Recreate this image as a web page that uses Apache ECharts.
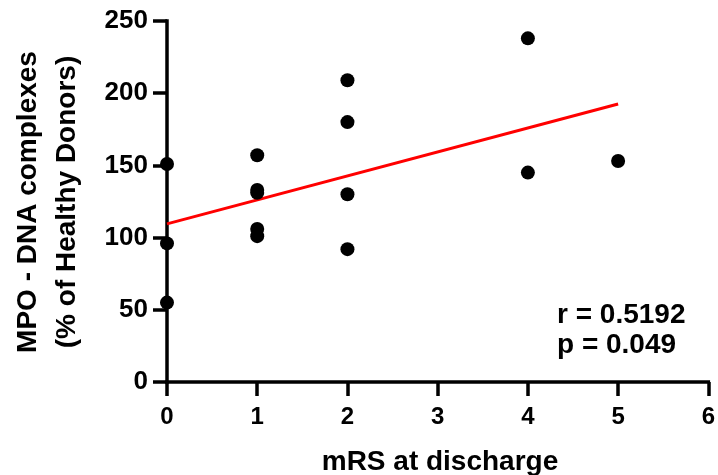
<!DOCTYPE html>
<html>
<head>
<meta charset="utf-8">
<script src="https://cdn.jsdelivr.net/npm/echarts@6/dist/echarts.min.js"></script>
<style>
html,body{margin:0;padding:0;background:#fff;}
#chart{width:718px;height:475px;}
</style>
</head>
<body>
<div id="chart"></div>
<script>
// mRS at discharge (x) and MPO-DNA complexes (% of healthy donors) (y)
var mrsValues = [0, 0, 0, 1, 1, 1, 1, 1, 2, 2, 2, 2, 4, 4, 5];
var mpoValues = [151, 96, 55, 157, 133, 131, 106, 101, 209, 180, 130, 92, 238, 145, 153];
// regression line endpoints
var fitX = [0, 5];
var fitY = [109.5, 192.5];
var xTicks = [0, 1, 2, 3, 4, 5, 6];
var yTicks = [0, 50, 100, 150, 200, 250];
var statLines = ['r = 0.5192', 'p = 0.049'];
var xTitle = 'mRS at discharge';
var yTitle = ['MPO - DNA complexes', '(% of Healthy Donors)'];

var FONT = '"Liberation Sans", Arial, Helvetica, sans-serif';
var chart = echarts.init(document.getElementById('chart'), null, {renderer: 'canvas'});

var scatterData = mrsValues.map(function (x, i) { return [x, mpoValues[i]]; });
var fitData = fitX.map(function (x, i) { return [x, fitY[i]]; });

function axisCommon() {
  return {
    axisLine: {show: true, onZero: true, lineStyle: {color: '#000', width: 3.5, cap: 'square'}},
    axisTick: {show: true, inside: false, length: 14, lineStyle: {color: '#000', width: 3.5}},
    splitLine: {show: false}
  };
}

chart.setOption({
  backgroundColor: '#fff',
  animation: false,
  grid: {left: 167, right: 9, top: 21, bottom: 93, containLabel: false},
  xAxis: Object.assign({
    type: 'value',
    min: xTicks[0],
    max: xTicks[xTicks.length - 1],
    interval: 1,
    axisLabel: {color: '#000', fontFamily: FONT, fontWeight: 'bold', fontSize: 24, margin: 23}
  }, axisCommon()),
  yAxis: Object.assign({
    type: 'value',
    min: yTicks[0],
    max: yTicks[yTicks.length - 1],
    interval: 50,
    axisLabel: {color: '#000', fontFamily: FONT, fontWeight: 'bold', fontSize: 26, margin: 19}
  }, axisCommon()),
  series: [
    {
      type: 'line',
      data: fitData,
      symbol: 'none',
      lineStyle: {color: '#ff0000', width: 3},
      z: 2,
      silent: true
    },
    {
      type: 'scatter',
      data: scatterData,
      symbol: 'circle',
      symbolSize: 14,
      itemStyle: {color: '#000', opacity: 1},
      clip: false,
      z: 3
    }
  ],
  graphic: [
    {
      type: 'text',
      x: 557, y: 315,
      style: {
        text: statLines[0],
        font: 'bold 28px ' + FONT,
        fill: '#000',
        textAlign: 'left',
        textVerticalAlign: 'middle'
      }
    },
    {
      type: 'text',
      x: 557, y: 345,
      style: {
        text: statLines[1],
        font: 'bold 28px ' + FONT,
        fill: '#000',
        textAlign: 'left',
        textVerticalAlign: 'middle'
      }
    },
    {
      type: 'text',
      x: 440, y: 462,
      style: {
        text: xTitle,
        font: 'bold 28px ' + FONT,
        fill: '#000',
        textAlign: 'center',
        textVerticalAlign: 'middle'
      }
    },
    {
      type: 'text',
      x: 48, y: 202,
      rotation: Math.PI / 2,
      style: {
        text: yTitle.join('\n'),
        font: 'bold 28px ' + FONT,
        fill: '#000',
        textAlign: 'center',
        textVerticalAlign: 'middle',
        lineHeight: 39
      }
    }
  ]
});
</script>
</body>
</html>
